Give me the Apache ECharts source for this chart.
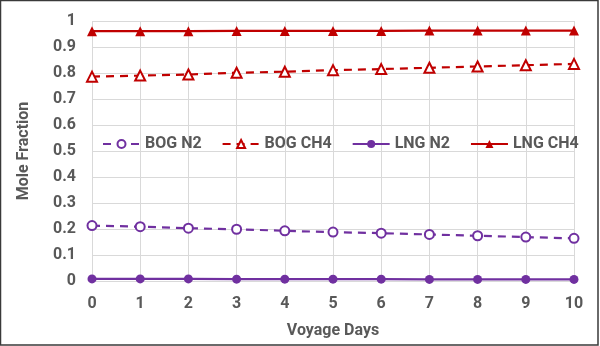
<!DOCTYPE html>
<html><head><meta charset="utf-8">
<script src="https://cdn.jsdelivr.net/npm/echarts@6/dist/echarts.min.js"></script>
<style>html,body{margin:0;padding:0;background:#fff}#c{width:600px;height:346px}</style>
</head><body><div id="c"></div>
<script>
const days = [0,1,2,3,4,5,6,7,8,9,10];
const bogN2 = [0.213,0.209,0.203,0.199,0.193,0.188,0.184,0.179,0.174,0.169,0.164];
const bogCH4 = [0.786,0.790,0.794,0.801,0.805,0.811,0.815,0.820,0.825,0.830,0.835];
const lngN2 = [0.008,0.008,0.008,0.007,0.007,0.007,0.007,0.006,0.006,0.006,0.006];
const lngCH4 = [0.961,0.961,0.961,0.962,0.962,0.962,0.962,0.963,0.963,0.963,0.963];
const PURPLE = '#7030A0', RED = '#C00000';
const txt = '#595959';
const font = 'Roboto, "Open Sans", sans-serif';
function pts(arr){ return days.map((d,i)=>[d,arr[i]]); }
const chart = echarts.init(document.getElementById('c'));
chart.setOption({
  animation:false,
  backgroundColor:'#fff',
  graphic:[{type:'rect',shape:{x:0.5,y:0.5,width:597.5,height:344.5},style:{fill:'none',stroke:'#3a3a3a',lineWidth:1.5},silent:true,z:100}],
  grid:{left:92,right:26,top:21,bottom:65},
  legend:{
    left:97, top:131, width:520, itemWidth:37, itemHeight:10, itemGap:20,
    textStyle:{color:txt,fontSize:16,fontWeight:'bold',fontFamily:font},
    data:['BOG N2','BOG CH4','LNG N2','LNG CH4']
  },
  xAxis:{type:'value',min:0,max:10,interval:1,
    axisLine:{show:false},axisTick:{show:false},
    splitLine:{show:true,lineStyle:{color:'#d9d9d9',width:1}},
    axisLabel:{color:txt,fontSize:16,fontWeight:'bold',fontFamily:font,margin:15},
    name:'Voyage Days',nameLocation:'middle',nameGap:42,
    nameTextStyle:{color:txt,fontSize:16,fontWeight:'bold',fontFamily:font}
  },
  yAxis:{type:'value',min:0,max:1,interval:0.1,
    axisLine:{show:false},axisTick:{show:false},
    splitLine:{show:true,lineStyle:{color:'#d9d9d9',width:1}},
    axisLabel:{color:txt,fontSize:16,fontWeight:'bold',fontFamily:font,margin:16,
      formatter:v=>String(Math.round(v*10)/10)},
    name:'Mole Fraction',nameLocation:'middle',nameGap:60,
    nameTextStyle:{color:txt,fontSize:16,fontWeight:'bold',fontFamily:font}
  },
  series:[
    {name:'BOG N2',type:'line',data:pts(bogN2),symbol:'emptyCircle',symbolSize:9,
     itemStyle:{color:PURPLE,borderWidth:1.3},lineStyle:{color:PURPLE,width:2.2,type:[8,6]}},
    {name:'BOG CH4',type:'line',data:pts(bogCH4),symbol:'emptyTriangle',symbolSize:10,
     itemStyle:{color:RED,borderWidth:1.3},lineStyle:{color:RED,width:2.2,type:[8,6]}},
    {name:'LNG N2',type:'line',data:pts(lngN2),symbol:'circle',symbolSize:9,
     itemStyle:{color:PURPLE},lineStyle:{color:PURPLE,width:2.2}},
    {name:'LNG CH4',type:'line',data:pts(lngCH4),symbol:'triangle',symbolSize:10,
     itemStyle:{color:RED},lineStyle:{color:RED,width:2.2}}
  ]
});
</script></body></html>
